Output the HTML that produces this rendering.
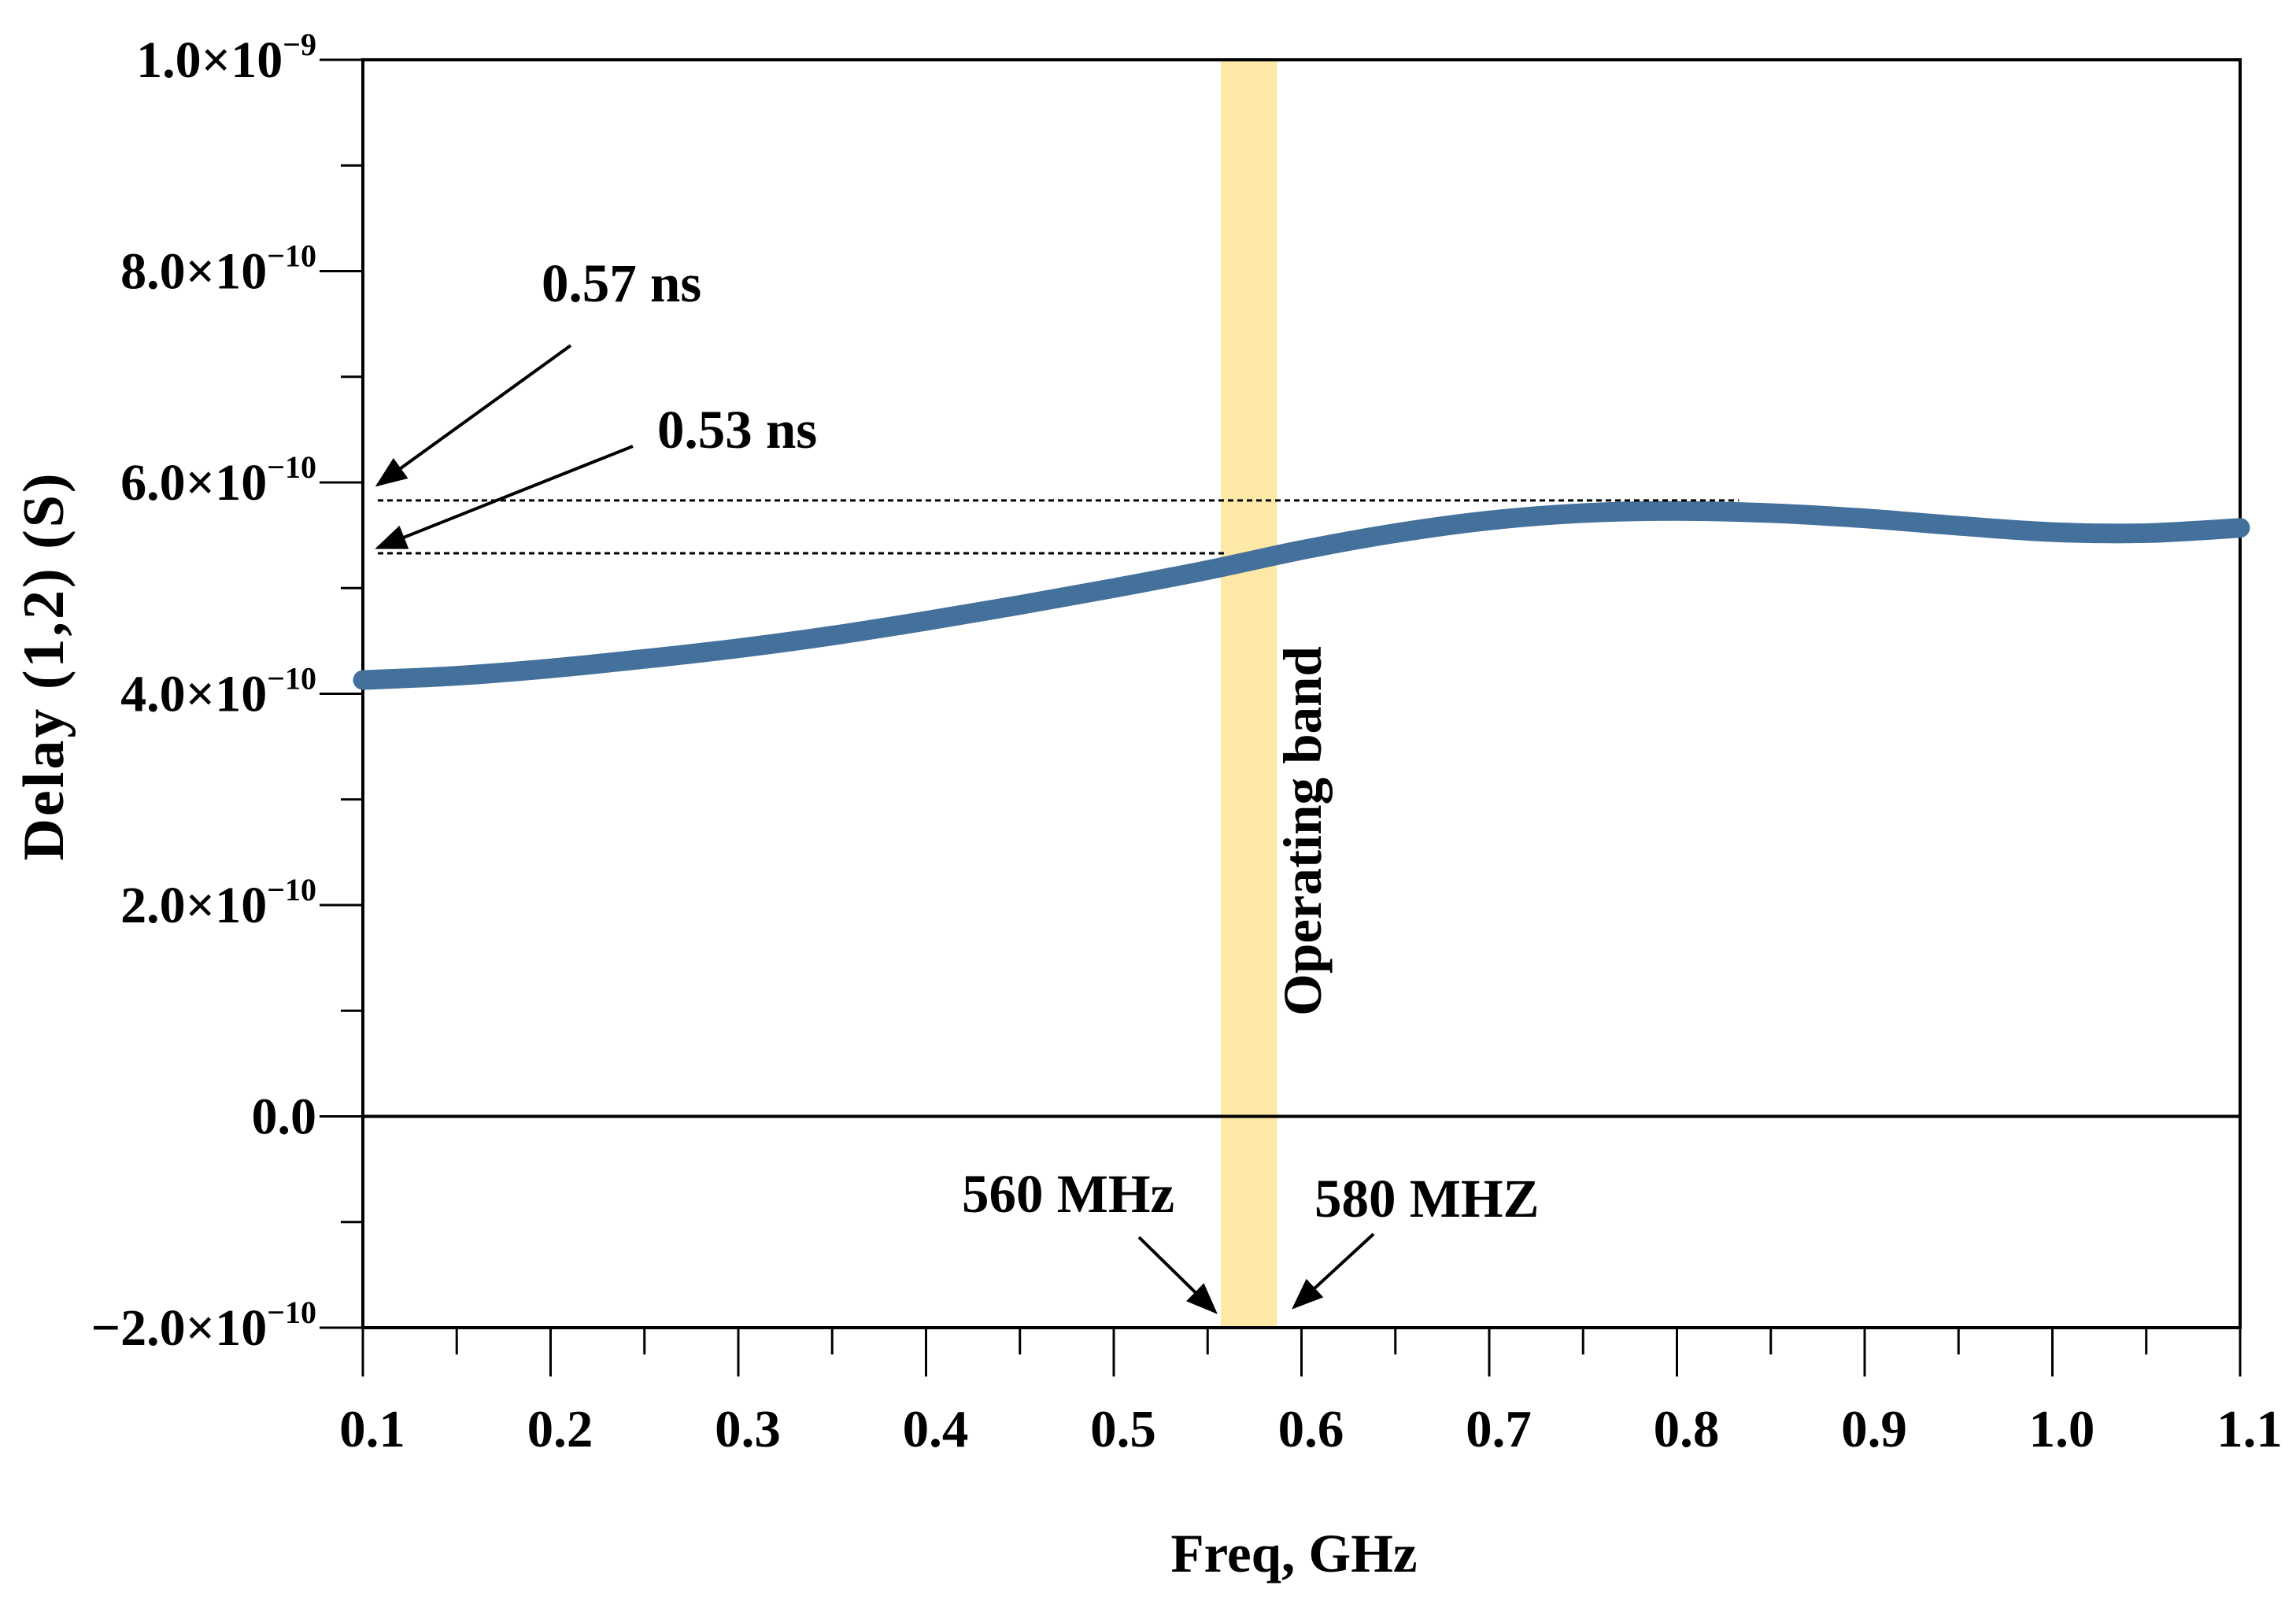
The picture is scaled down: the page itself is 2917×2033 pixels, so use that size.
<!DOCTYPE html>
<html><head><meta charset="utf-8"><style>
html,body{margin:0;padding:0;background:#fff}
svg{display:block}
text{font-family:"Liberation Serif",serif;font-weight:bold;fill:#000}
</style></head><body>
<svg id="chart" width="2917" height="2033" viewBox="0 0 2917 2033" xmlns="http://www.w3.org/2000/svg">
<g id="band"></g>
<g id="axes"></g>
<g id="series"></g>
<g id="annot"></g>
</svg>
<script>
const freqs = [0.1,0.15,0.2,0.25,0.3,0.35,0.4,0.45,0.5,0.55,0.6,0.65,0.7,0.75,0.8,0.85,0.9,0.95,1.0,1.05,1.1];
const delays = [4.13,4.17,4.24,4.33,4.43,4.55,4.69,4.84,5.00,5.17,5.36,5.52,5.64,5.71,5.73,5.71,5.66,5.59,5.53,5.52,5.57];
const xTicks = [0.1,0.2,0.3,0.4,0.5,0.6,0.7,0.8,0.9,1.0,1.1];
const xTickLabels = ["0.1","0.2","0.3","0.4","0.5","0.6","0.7","0.8","0.9","1.0","1.1"];
const yTicks = [-2,0,2,4,6,8,10];
const yTickMant = ["\u22122.0","0.0","2.0","4.0","6.0","8.0","1.0"];
const yTickExp = ["\u221210","","\u221210","\u221210","\u221210","\u221210","\u22129"];
const bandRange = [0.557,0.587];
const refLevels = [5.83,5.33];
const refEnds = [0.833,0.56];

const NS="http://www.w3.org/2000/svg";
const X0=461,X1=2846,Y0=1687,Y1=76;
const xMin=0.1,xMax=1.1,yMin=-2,yMax=10;
const sx=v=>X0+(v-xMin)/(xMax-xMin)*(X1-X0);
const sy=v=>Y0-(v-yMin)/(yMax-yMin)*(Y0-Y1);
function mk(tag,attrs,parent,txt){const e=document.createElementNS(NS,tag);for(const k in attrs)e.setAttribute(k,attrs[k]);if(txt!==undefined)e.textContent=txt;parent.appendChild(e);return e;}
const band=document.getElementById('band'),axes=document.getElementById('axes'),series=document.getElementById('series'),annot=document.getElementById('annot');

let r=mk('rect',{x:sx(bandRange[0]),y:Y1,width:sx(bandRange[1])-sx(bandRange[0]),height:Y0-Y1,fill:'#fde8a6'},band);



let fr=mk('rect',{x:X0,y:Y1,width:X1-X0,height:Y0-Y1,fill:'none',stroke:'#000','stroke-width':4},axes);


let zl=mk('line',{x1:X0,x2:X1,y1:sy(0),y2:sy(0),stroke:'#000','stroke-width':4},axes);



for(let v=yMin;v<=yMax;v+=1){
  const major=(v%2===0);
  let t=mk('line',{x1:X0-(major?55:28),x2:X0,y1:sy(v),y2:sy(v),stroke:'#000','stroke-width':3},axes);
  
  
}
yTicks.forEach((v,i)=>{
  const t=mk('text',{x:402,y:sy(v)+22,'text-anchor':'end','font-size':66},axes);
  
  
  mk('tspan',{},t,yTickMant[i]+(yTickExp[i]?"\u00d710":""));
  if(yTickExp[i]){mk('tspan',{dy:-28,'font-size':40},t,yTickExp[i]);}
});
for(let k=0;k<=20;k++){
  const v=xMin+k*0.05;const major=k%2===0;
  let t=mk('line',{x1:sx(v),x2:sx(v),y1:Y0,y2:Y0+(major?62:34),stroke:'#000','stroke-width':3},axes);
  
  
}
xTicks.forEach((v,i)=>{
  const t=mk('text',{x:sx(v)+12,y:1838,'text-anchor':'middle','font-size':67},axes,xTickLabels[i]);
  
  
});
let xt=mk('text',{x:1644,y:1997,'text-anchor':'middle','font-size':69},axes,'Freq, GHz');


let yt=mk('text',{x:0,y:0,'text-anchor':'middle','font-size':74,transform:'translate(80,846) rotate(-90)','letter-spacing':'3'},axes,'Delay (1,2) (S)');



refLevels.forEach((lv,i)=>{
  let l=mk('line',{x1:480,x2:sx(refEnds[i]),y1:sy(lv),y2:sy(lv),stroke:'#000','stroke-width':3,'stroke-dasharray':'7,5'},annot);
  
  
});

const pts=freqs.map((f,i)=>[sx(f),sy(delays[i])]);
let d='M'+pts[0][0]+','+pts[0][1];
for(let i=0;i<pts.length-1;i++){
  const p0=pts[Math.max(0,i-1)],p1=pts[i],p2=pts[i+1],p3=pts[Math.min(pts.length-1,i+2)];
  d+=' C'+(p1[0]+(p2[0]-p0[0])/6)+','+(p1[1]+(p2[1]-p0[1])/6)+' '+(p2[0]-(p3[0]-p1[0])/6)+','+(p2[1]-(p3[1]-p1[1])/6)+' '+p2[0]+','+p2[1];
}
let cv=mk('path',{d:d,fill:'none',stroke:'#44719c','stroke-width':25,'stroke-linecap':'round'},series);



mk('defs',{},annot).innerHTML='<marker id="ah" markerWidth="40" markerHeight="32" refX="9" refY="4" orient="auto" markerUnits="userSpaceOnUse" viewBox="0 0 10 8"><path d="M0,0 L10,4 L0,8 z" fill="#000"/></marker>';
const arrows=[[725,439,480,616],[804,567,480,696],[1447,1572,1544,1667],[1745,1568,1644,1661]];
arrows.forEach(a=>{
  let l=mk('line',{x1:a[0],y1:a[1],x2:a[2],y2:a[3],stroke:'#000','stroke-width':4,'marker-end':'url(#ah)'},annot);
  
  
});
const labels=[[688,383,'0.57 ns'],[835,569,'0.53 ns'],[1222,1540,'560 MHz'],[1670,1546,'580 MHZ']];
labels.forEach(a=>{
  let t=mk('text',{x:a[0],y:a[1],'font-size':69},annot,a[2]);
  
  
});
let ob=mk('text',{x:0,y:0,'text-anchor':'middle','font-size':69,transform:'translate(1678,1056) rotate(-90)'},annot,'Operating band');


</script>
</body></html>
